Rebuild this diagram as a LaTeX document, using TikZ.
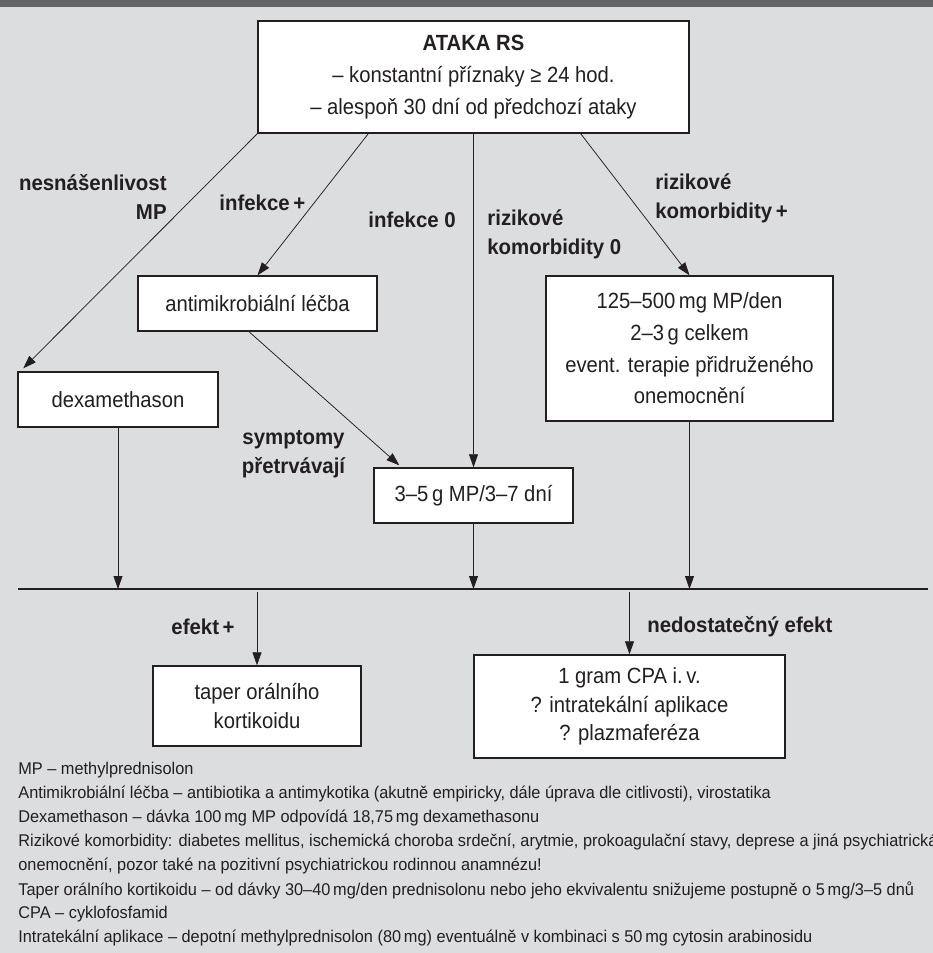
\documentclass[tikz,border=0pt]{standalone}
\usepackage{fontspec}
\setmainfont{Liberation Sans}
\newfontfamily\boxfont{Liberation Sans}[FakeStretch=0.92]
\newfontfamily\lblfont{Liberation Sans}[FakeStretch=0.95]
\newfontfamily\notefont{Liberation Sans}[FakeStretch=0.96]
\usetikzlibrary{arrows.meta,calc}
\definecolor{bggray}{HTML}{DCDDDF}
\definecolor{bargray}{HTML}{646566}
\definecolor{ink}{HTML}{231F20}
\tikzset{box/.style={draw=ink,line width=1.4pt,fill=white,align=center,text=ink,
			font=\boxfont\fontsize{22}{31.7}\selectfont,inner sep=0pt},
	boxlow/.style={box,font=\boxfont\fontsize{22}{28.5}\selectfont},
	lbl/.style={font=\lblfont\fontsize{21.5}{29}\selectfont\bfseries,inner sep=0pt,text=ink},
	note/.style={font=\notefont\fontsize{17}{24}\selectfont,anchor=west,inner sep=0pt,text=ink}}

\begin{document}
\begin{tikzpicture}[x=1pt,y=-1pt,>={Triangle[length=13pt,width=9pt]},line width=0.75pt,draw=ink]
\useasboundingbox (0,0) rectangle (933,953);
\fill[bggray] (0,0) rectangle (933,953);
\fill[bargray] (0,0) rectangle (933,7);

% boxes
\node[box,minimum width=431pt,minimum height=112pt] (ataka) at (473.5,77) {\textbf{ATAKA RS}\\– konstantní příznaky ≥ 24 hod.\\– alespoň 30 dní od předchozí ataky};
\node[box,minimum width=239pt,minimum height=55pt] (antimikro) at (257.5,303.5) {antimikrobiální léčba};
\node[box,minimum width=200pt,minimum height=55pt] (dexa) at (118,399.5) {dexamethason};
\node[box,minimum width=287pt,minimum height=145pt] (komorb) at (689.5,348.5) {125–500\,mg MP/den\\2–3\,g celkem\\event. terapie přidruženého\\onemocnění};
\node[box,minimum width=199pt,minimum height=55pt] (mp) at (473.5,495.5) {3–5\,g MP/3–7 dní};
\node[boxlow,minimum width=208pt,minimum height=80pt] (taper) at (257,706) {taper orálního\\kortikoidu};
\node[boxlow,minimum width=311pt,minimum height=103pt] (cpa) at (629.5,706.5) {1 gram CPA i.\,v.\\? intratekální aplikace\\? plazmaferéza};

% labels
\node[lbl,align=right,anchor=east] (lNesn) at (167,197) {nesnášenlivost\\MP};
\node[lbl,anchor=west] (lInfP) at (219,203) {infekce\,+};
\node[lbl,anchor=west] (lInf0) at (368,220) {infekce 0};
\node[lbl,align=left,anchor=west] (lKom0) at (487,234) {rizikové\\komorbidity 0};
\node[lbl,align=left,anchor=west] (lKomP) at (655,198) {rizikové\\komorbidity\,+};
\node[lbl,align=center] (lSympt) at (293.5,454) {symptomy\\přetrvávají};
\node[lbl,anchor=east] (lEfP) at (235,627) {efekt\,+};
\node[lbl,anchor=west] (lEfN) at (647,627) {nedostatečný efekt};

% connectors
\coordinate (lineL) at (18,589);
\coordinate (lineR) at (928,589);
\draw[->] (ataka.south west) -- ($(dexa.north west)+(6,-3)$);
\draw[->] ($(ataka.south west)+(111,0)$) -- (antimikro.north);
\draw[->] (ataka.south) -- (mp.north);
\draw[->] ($(ataka.south east)+(-109,0)$) -- (komorb.north);
\draw[->] ($(antimikro.south)+(-8.5,0)$) -- ($(mp.north west)+(26,-2)$);
\draw[->] (dexa.south) -- (dexa.south |- lineL);
\draw[->] (mp.south) -- (mp.south |- lineL);
\draw[->] (komorb.south) -- (komorb.south |- lineL);
\draw[line width=1.5pt] (lineL) -- (lineR);
\draw[->] ($(taper.north |- lineL)+(0,3)$) -- (taper.north);
\draw[->] ($(cpa.north |- lineL)+(0,3)$) -- (cpa.north);

% notes
\foreach \txt [count=\i] in {
	{MP – methylprednisolon},
	{Antimikrobiální léčba – antibiotika a antimykotika (akutně empiricky, dále úprava dle citlivosti), virostatika},
	{Dexamethason – dávka 100\,mg MP odpovídá 18,75\,mg dexamethasonu},
	{Rizikové komorbidity: diabetes mellitus, ischemická choroba srdeční, arytmie, prokoagulační stavy, deprese a jiná psychiatrická},
	{onemocnění, pozor také na pozitivní psychiatrickou rodinnou anamnézu!},
	{Taper orálního kortikoidu – od dávky 30–40\,mg/den prednisolonu nebo jeho ekvivalentu snižujeme postupně o 5\,mg/3–5 dnů},
	{CPA – cyklofosfamid},
	{Intratekální aplikace – depotní methylprednisolon (80\,mg) eventuálně v kombinaci s 50\,mg cytosin arabinosidu}}
	\node[note] (fn\i) at (18,{770+24*(\i-1)}) {\txt};

\end{tikzpicture}
\end{document}
